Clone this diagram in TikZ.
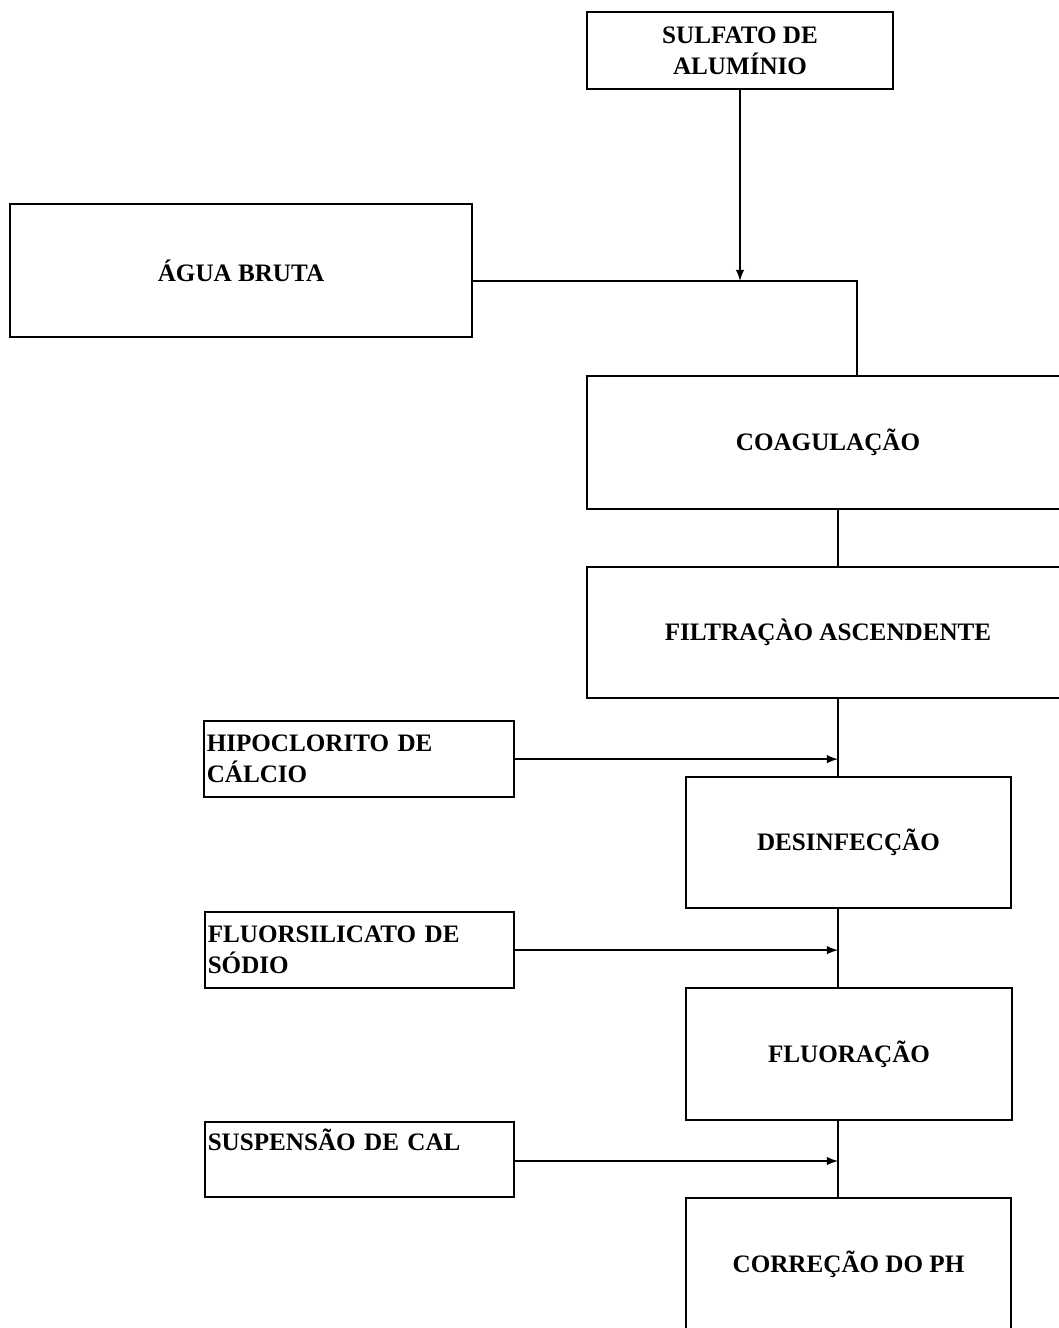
\documentclass[tikz,border=0pt]{standalone}
\usepackage{fontspec}
\setmainfont{Liberation Serif}
\usepackage{tikz}

\tikzset{
	etapa/.style={draw, line width=1.3pt, inner sep=0pt, align=center},
	insumo/.style={draw, line width=1.3pt, inner xsep=1.5pt, inner ysep=3pt, align=left, anchor=north west},
	linha/.style={line width=1.2pt}
}

\begin{document}
\begin{tikzpicture}[x=0.02cm, y=-0.02cm, font=\fontsize{14.3}{17.6}\selectfont\bfseries]
	\useasboundingbox (0,0) rectangle (1058,1328);
	\node[etapa, minimum width=6.12cm, minimum height=1.54cm] (sulfato) at (740,50.5) {SULFATO DE\\ALUMÍNIO};
	\node[etapa, minimum width=9.24cm, minimum height=2.66cm] (agua) at (241,270.5) {ÁGUA BRUTA};
	\node[etapa, minimum width=9.64cm, minimum height=2.66cm] (coag) at (828,442.5) {COAGULAÇÃO};
	\node[etapa, minimum width=9.64cm, minimum height=2.62cm] (filt) at (828,632.5) {FILTRAÇÀO ASCENDENTE};
	\node[etapa, minimum width=6.5cm, minimum height=2.62cm] (desinf) at (848.5,842.5) {DESINFECÇÃO};
	\node[etapa, minimum width=6.52cm, minimum height=2.64cm] (fluor) at (849,1054) {FLUORAÇÃO};
	\node[etapa, minimum width=6.5cm, minimum height=2.64cm] (ph) at (848.5,1264) {CORREÇÃO DO PH};
	\node[insumo, minimum width=6.2cm, minimum height=1.52cm, text width=6.2cm-3pt] (hipo) at (203,720) {HIPOCLORITO DE\\CÁLCIO};
	\node[insumo, minimum width=6.18cm, minimum height=1.52cm, text width=6.18cm-3pt] (fsil) at (204,911) {FLUORSILICATO DE\\SÓDIO};
	\node[insumo, minimum width=6.18cm, minimum height=1.5cm, text width=6.18cm-3pt] (cal) at (204,1121) {SUSPENSÃO DE CAL\\\strut};
	\coordinate (mistura) at (740,281);
	\coordinate (curva) at (857,281);
	\coordinate (eixo) at (838,0);
	\draw [-latex, linha] (sulfato.south -| mistura) -- (mistura);
	\draw [linha] (agua.east |- curva) -- (curva) -- (curva |- coag.north);
	\draw [linha] (coag.south -| eixo) -- (filt.north -| eixo);
	\draw [linha] (filt.south -| eixo) -- (desinf.north -| eixo);
	\draw [linha] (desinf.south -| eixo) -- (fluor.north -| eixo);
	\draw [linha] (fluor.south -| eixo) -- (ph.north -| eixo);
	\draw [-latex, linha] (hipo.east) -- (hipo.east -| eixo);
	\draw [-latex, linha] (fsil.east) -- (fsil.east -| eixo);
	\draw [-latex, linha] (cal.east |- 0,1161) -- (eixo |- 0,1161);
\end{tikzpicture}
\end{document}
